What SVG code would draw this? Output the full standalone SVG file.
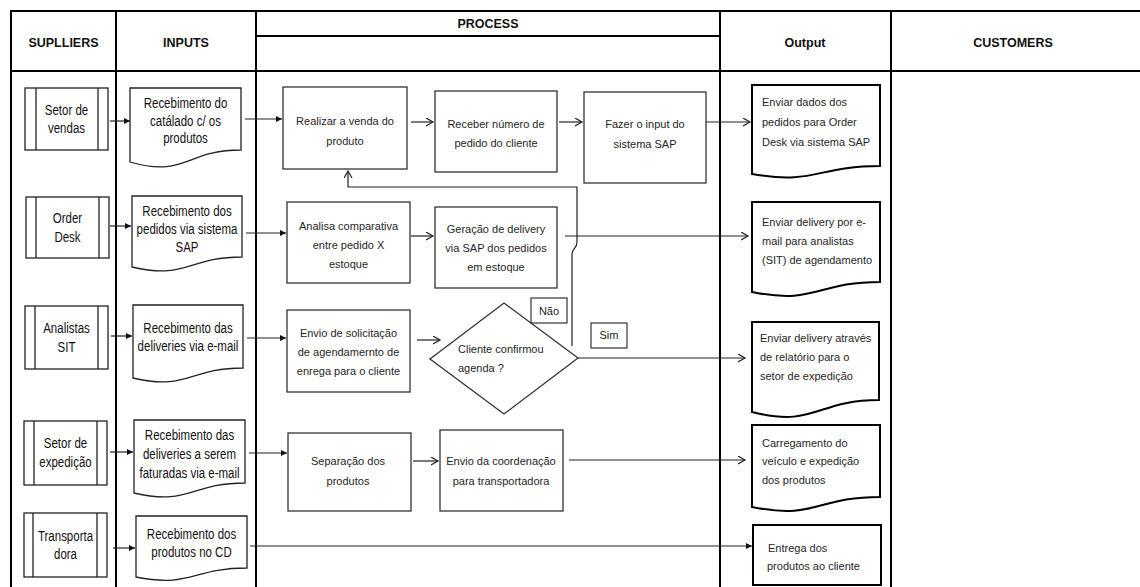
<svg xmlns="http://www.w3.org/2000/svg" width="1140" height="587" viewBox="0 0 1140 587">
  <style>
    .grid { stroke: #000; stroke-width: 2; fill: none; }
    .hdr { font-family: "Liberation Sans", Arial, sans-serif; font-weight: bold; font-size: 12.5px; text-anchor: middle; fill: #111; }
    .nar { font-family: "Liberation Sans", Arial, sans-serif; font-size: 14px; text-anchor: middle; fill: #111; }
    .pc { font-family: "Liberation Sans", Arial, sans-serif; font-size: 11px; text-anchor: middle; fill: #262626; }
    .ot { font-family: "Liberation Sans", Arial, sans-serif; font-size: 11px; text-anchor: start; fill: #262626; }
    .sup { fill: #fff; stroke: #222; stroke-width: 1.3; }
    .bar { stroke: #222; stroke-width: 1.3; }
    .box { fill: #fff; stroke: #333; stroke-width: 1.3; }
    .idoc { fill: #fff; stroke: #222; stroke-width: 1.3; }
    .odoc { fill: #fff; stroke: #000; stroke-width: 2; }
    .tag { fill: #fff; stroke: #333; stroke-width: 1.2; }
    .ln { fill: none; stroke: #222; stroke-width: 1.2; }
    .solid { marker-end: url(#tri); }
    .open { marker-end: url(#chev); }
  </style>
  <defs>
    <marker id="tri" markerUnits="userSpaceOnUse" markerWidth="7" markerHeight="7" refX="6" refY="3" orient="auto">
      <path d="M0,0 L6,3 L0,6 Z" fill="#111"/>
    </marker>
    <marker id="chev" markerUnits="userSpaceOnUse" markerWidth="9" markerHeight="10" refX="7.5" refY="4.5" orient="auto">
      <path d="M0.5,0.5 L7.5,4.5 L0.5,8.5" fill="none" stroke="#222" stroke-width="1.2"/>
    </marker>
  </defs>

  <rect width="1140" height="587" fill="#fff"/>

  <!-- table frame -->
  <g id="table">
    <line class="grid" x1="11" y1="11" x2="1140" y2="11"/>
    <line class="grid" x1="11" y1="71" x2="1140" y2="71"/>
    <line class="grid" x1="256" y1="36" x2="720" y2="36"/>
    <line class="grid" x1="11" y1="10" x2="11" y2="587"/>
    <line class="grid" x1="116" y1="10" x2="116" y2="587"/>
    <line class="grid" x1="256" y1="10" x2="256" y2="587"/>
    <line class="grid" x1="720" y1="10" x2="720" y2="587"/>
    <line class="grid" x1="891" y1="10" x2="891" y2="587"/>
    <text class="hdr" x="63.5" y="47">SUPLLIERS</text>
    <text class="hdr" x="186" y="47">INPUTS</text>
    <text class="hdr" x="488" y="28">PROCESS</text>
    <text class="hdr" x="805" y="47">Output</text>
    <text class="hdr" x="1013" y="47">CUSTOMERS</text>
  </g>

  <!-- suppliers (narrow type: horizontally condensed) -->
  <g id="sup-vendas">
    <rect class="sup" x="25" y="88" width="83" height="62"/>
    <line class="bar" x1="36" y1="88" x2="36" y2="150"/>
    <line class="bar" x1="98" y1="88" x2="98" y2="150"/>
    <text class="nar" transform="translate(66.5,115) scale(0.82,1)">Setor de</text>
    <text class="nar" transform="translate(66.5,133) scale(0.82,1)">vendas</text>
  </g>
  <g id="sup-orderdesk">
    <rect class="sup" x="26" y="197" width="83" height="61"/>
    <line class="bar" x1="36" y1="197" x2="36" y2="258"/>
    <line class="bar" x1="99" y1="197" x2="99" y2="258"/>
    <text class="nar" transform="translate(67.5,223) scale(0.82,1)">Order</text>
    <text class="nar" transform="translate(67.5,242) scale(0.82,1)">Desk</text>
  </g>
  <g id="sup-analistas">
    <rect class="sup" x="25" y="306" width="83" height="63"/>
    <line class="bar" x1="35" y1="306" x2="35" y2="369"/>
    <line class="bar" x1="98" y1="306" x2="98" y2="369"/>
    <text class="nar" transform="translate(66.5,333) scale(0.82,1)">Analistas</text>
    <text class="nar" transform="translate(66.5,352) scale(0.82,1)">SIT</text>
  </g>
  <g id="sup-expedicao">
    <rect class="sup" x="24" y="421" width="83" height="64"/>
    <line class="bar" x1="34" y1="421" x2="34" y2="485"/>
    <line class="bar" x1="97" y1="421" x2="97" y2="485"/>
    <text class="nar" transform="translate(65.5,448) scale(0.82,1)">Setor de</text>
    <text class="nar" transform="translate(65.5,467) scale(0.82,1)">expedição</text>
  </g>
  <g id="sup-transportadora">
    <rect class="sup" x="24" y="513" width="83" height="64"/>
    <line class="bar" x1="33" y1="513" x2="33" y2="577"/>
    <line class="bar" x1="97" y1="513" x2="97" y2="577"/>
    <text class="nar" transform="translate(65.5,541) scale(0.82,1)">Transporta</text>
    <text class="nar" transform="translate(65.5,559) scale(0.82,1)">dora</text>
  </g>

  <!-- inputs (document shapes) -->
  <g id="in-catalogo">
    <path class="idoc" d="M130,88 H241 V150 C185.5,150 185.5,178 130,162 Z"/>
    <text class="nar" transform="translate(185.5,108) scale(0.82,1)">Recebimento do</text>
    <text class="nar" transform="translate(185.5,126) scale(0.82,1)">catálado c/ os</text>
    <text class="nar" transform="translate(185.5,143) scale(0.82,1)">produtos</text>
  </g>
  <g id="in-pedidos">
    <path class="idoc" d="M132,196 H242 V257 C187,257 187,280 132,267 Z"/>
    <text class="nar" transform="translate(187,216) scale(0.82,1)">Recebimento dos</text>
    <text class="nar" transform="translate(187,234) scale(0.82,1)">pedidos via  sistema</text>
    <text class="nar" transform="translate(187,252) scale(0.82,1)">SAP</text>
  </g>
  <g id="in-deliveries">
    <path class="idoc" d="M133,305 H243 V368 C188,368 188,391 133,378 Z"/>
    <text class="nar" transform="translate(188,333) scale(0.82,1)">Recebimento das</text>
    <text class="nar" transform="translate(188,351) scale(0.82,1)">deliveries  via  e-mail</text>
  </g>
  <g id="in-faturadas">
    <path class="idoc" d="M134,420 H245 V483 C189.5,483 189.5,506 134,493 Z"/>
    <text class="nar" transform="translate(189.5,440) scale(0.82,1)">Recebimento das</text>
    <text class="nar" transform="translate(189.5,459) scale(0.82,1)">deliveries  a serem</text>
    <text class="nar" transform="translate(189.5,478) scale(0.82,1)">faturadas via e-mail</text>
  </g>
  <g id="in-produtos-cd">
    <path class="idoc" d="M136,516 H247 V568 C191.5,568 191.5,588 136,577 Z"/>
    <text class="nar" transform="translate(191.5,539) scale(0.82,1)">Recebimento dos</text>
    <text class="nar" transform="translate(191.5,557) scale(0.82,1)">produtos no CD</text>
  </g>

  <!-- process steps -->
  <g id="p-venda">
    <rect class="box" x="283" y="87" width="124" height="82"/>
    <text class="pc" x="345" y="125">Realizar a venda do</text>
    <text class="pc" x="345" y="145">produto</text>
  </g>
  <g id="p-numero">
    <rect class="box" x="435" y="91" width="122" height="81"/>
    <text class="pc" x="496" y="128">Receber número de</text>
    <text class="pc" x="496" y="147">pedido do cliente</text>
  </g>
  <g id="p-input-sap">
    <rect class="box" x="584" y="92" width="122" height="91"/>
    <text class="pc" x="645" y="128">Fazer o input do</text>
    <text class="pc" x="645" y="148">sistema SAP</text>
  </g>
  <g id="p-analise">
    <rect class="box" x="287" y="202" width="123" height="81"/>
    <text class="pc" x="348.5" y="230">Analisa comparativa</text>
    <text class="pc" x="348.5" y="249">entre  pedido X</text>
    <text class="pc" x="348.5" y="268">estoque</text>
  </g>
  <g id="p-geracao">
    <rect class="box" x="435" y="207" width="122" height="81"/>
    <text class="pc" x="496" y="233">Geração de delivery</text>
    <text class="pc" x="496" y="252">via SAP dos pedidos</text>
    <text class="pc" x="496" y="271">em estoque</text>
  </g>
  <g id="p-solicitacao">
    <rect class="box" x="287" y="310" width="123" height="82"/>
    <text class="pc" x="348.5" y="337">Envio de solicitação</text>
    <text class="pc" x="348.5" y="356">de agendamernto de</text>
    <text class="pc" x="348.5" y="375">enrega para o cliente</text>
  </g>
  <g id="p-decisao">
    <polygon class="box" points="430,359 504,303 578,358 504,414"/>
    <text class="ot" x="458" y="353">Cliente confirmou</text>
    <text class="ot" x="458" y="372">agenda ?</text>
  </g>
  <g id="lbl-nao">
    <rect class="tag" x="531" y="298" width="36" height="25"/>
    <text class="pc" x="549" y="315">Não</text>
  </g>
  <g id="lbl-sim">
    <rect class="tag" x="591" y="323" width="36" height="25"/>
    <text class="pc" x="609" y="339">Sim</text>
  </g>
  <g id="p-separacao">
    <rect class="box" x="288" y="433" width="123" height="78"/>
    <text class="pc" x="348" y="465">Separação dos</text>
    <text class="pc" x="348" y="485">produtos</text>
  </g>
  <g id="p-coordenacao">
    <rect class="box" x="440" y="430" width="123" height="81"/>
    <text class="pc" x="501" y="465">Envio da coordenação</text>
    <text class="pc" x="501" y="485">para transportadora</text>
  </g>

  <!-- outputs -->
  <g id="out-order-desk">
    <path class="odoc" d="M752,85 H880 V166 C816,166 816,185 752,174 Z"/>
    <text class="ot" x="762" y="106">Enviar dados dos</text>
    <text class="ot" x="762" y="126">pedidos para Order</text>
    <text class="ot" x="762" y="146">Desk via sistema SAP</text>
  </g>
  <g id="out-analistas">
    <path class="odoc" d="M752,202 H880 V282 C816,282 816,305 752,292 Z"/>
    <text class="ot" x="762" y="226">Enviar delivery por e-</text>
    <text class="ot" x="762" y="245">mail para analistas</text>
    <text class="ot" x="762" y="264">(SIT) de  agendamento</text>
  </g>
  <g id="out-relatorio">
    <path class="odoc" d="M752,322 H879 V400 C815.5,400 815.5,428 752,412 Z"/>
    <text class="ot" x="760" y="342">Enviar delivery através</text>
    <text class="ot" x="760" y="361">de relatório para o</text>
    <text class="ot" x="760" y="380">setor de expedição</text>
  </g>
  <g id="out-carregamento">
    <path class="odoc" d="M752,425 H880 V497 C816,497 816,520 752,507 Z"/>
    <text class="ot" x="762" y="447">Carregamento do</text>
    <text class="ot" x="762" y="465">veículo e expedição</text>
    <text class="ot" x="762" y="484">dos produtos</text>
  </g>
  <g id="out-entrega">
    <rect class="odoc" x="753" y="525" width="128" height="60"/>
    <text class="ot" x="768" y="552">Entrega dos</text>
    <text class="ot" x="767" y="570">produtos ao cliente</text>
  </g>

  <!-- connectors -->
  <g id="connectors">
    <line class="ln solid" x1="110" y1="121" x2="130" y2="121"/>
    <line class="ln solid" x1="110" y1="226" x2="131" y2="226"/>
    <line class="ln solid" x1="111" y1="336" x2="132" y2="336"/>
    <line class="ln solid" x1="110" y1="452" x2="133" y2="452"/>
    <line class="ln solid" x1="113" y1="548" x2="135" y2="548"/>

    <line class="ln solid" x1="245" y1="119" x2="282" y2="119"/>
    <line class="ln solid" x1="246" y1="233" x2="286" y2="233"/>
    <line class="ln solid" x1="247" y1="338" x2="286" y2="338"/>
    <line class="ln solid" x1="249" y1="453" x2="287" y2="453"/>
    <line class="ln solid" x1="250" y1="546" x2="752" y2="546"/>

    <line class="ln open" x1="411" y1="122" x2="433" y2="122"/>
    <line class="ln open" x1="559" y1="122" x2="582" y2="122"/>
    <line class="ln open" x1="706" y1="122" x2="750" y2="122"/>

    <line class="ln open" x1="411" y1="236" x2="433" y2="236"/>
    <line class="ln open" x1="565" y1="236" x2="748" y2="236"/>

    <line class="ln open" x1="417" y1="340" x2="440" y2="340"/>
    <line class="ln open" x1="578" y1="358" x2="745" y2="358"/>

    <line class="ln open" x1="413" y1="461" x2="438" y2="461"/>
    <line class="ln open" x1="569" y1="460" x2="745" y2="460"/>

    <!-- "Não" branch back to the sale step -->
    <path class="ln open" d="M572,346 V254 C572,248 577,249 577,242 V187 H348 V171"/>
  </g>
</svg>
